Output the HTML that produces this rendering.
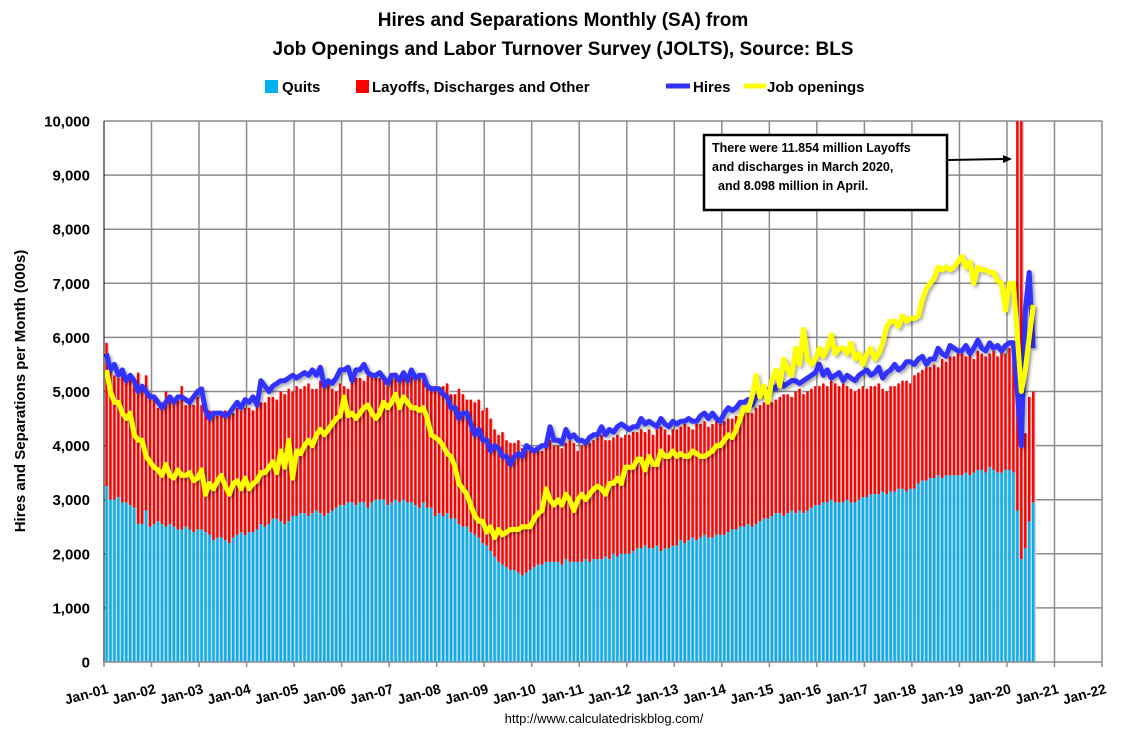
<!DOCTYPE html>
<html><head><meta charset="utf-8"><style>
body{margin:0;background:#fff;width:1126px;height:737px;overflow:hidden;font-family:"Liberation Sans",sans-serif}
text{font-family:"Liberation Sans",sans-serif}
</style></head><body>
<svg id="c" width="1126" height="737" xmlns="http://www.w3.org/2000/svg">
<defs>
<filter id="sh" x="-5%" y="-5%" width="110%" height="110%"><feDropShadow dx="2" dy="2" stdDeviation="1.5" flood-color="#000" flood-opacity="0.35"/></filter>
<clipPath id="pc"><rect x="104" y="121" width="998" height="541"/></clipPath>
</defs>
<text x="563" y="26" text-anchor="middle" font-size="19" font-weight="bold">Hires and Separations Monthly (SA) from</text>
<text x="563" y="55" text-anchor="middle" font-size="19" font-weight="bold">Job Openings and Labor Turnover Survey (JOLTS), Source: BLS</text>
<g font-size="15" font-weight="bold">
<rect x="265" y="80" width="13" height="13" fill="#00b0f0"/>
<text x="282" y="92">Quits</text>
<rect x="356" y="80" width="13" height="13" fill="#ff0000"/>
<text x="372" y="92">Layoffs, Discharges and Other</text>
<line x1="666" y1="86" x2="690" y2="86" stroke="#3333ff" stroke-width="5"/>
<text x="693" y="92">Hires</text>
<line x1="744" y1="86" x2="766" y2="86" stroke="#ffff00" stroke-width="5"/>
<text x="767" y="92">Job openings</text>
</g>
<g id="grid"></g>
<g id="bars" clip-path="url(#pc)"></g>
<g id="lines" clip-path="url(#pc)"></g>
<g id="axes"></g>
<text transform="translate(25,391) rotate(-90)" text-anchor="middle" font-size="15" font-weight="bold">Hires and Separations per Month (000s)</text>
<g>
<rect x="704" y="135" width="243" height="75" fill="#fff" stroke="#000" stroke-width="2.5"/>
<text font-size="12.5" font-weight="bold"><tspan x="712" y="152">There were 11.854 million Layoffs</tspan><tspan x="712" y="171">and discharges in March 2020,</tspan><tspan x="718" y="190">and 8.098 million in April.</tspan></text>
<line x1="948" y1="160" x2="1004" y2="159" stroke="#000" stroke-width="2"/>
<polygon points="1012,159 1003,155 1003,163" fill="#000"/>
</g>
<text x="604" y="723" text-anchor="middle" font-size="13">http://www.calculatedriskblog.com/</text>
</svg>
<script>
const yTicks=[0,1000,2000,3000,4000,5000,6000,7000,8000,9000,10000];
const yTickLabels=["0","1,000","2,000","3,000","4,000","5,000","6,000","7,000","8,000","9,000","10,000"];
const xTickLabels=["Jan-01","Jan-02","Jan-03","Jan-04","Jan-05","Jan-06","Jan-07","Jan-08","Jan-09","Jan-10","Jan-11","Jan-12","Jan-13","Jan-14","Jan-15","Jan-16","Jan-17","Jan-18","Jan-19","Jan-20","Jan-21","Jan-22"];
// monthly, Jan 2001 - Jul 2020
const quits=[
3250,3000,3000,3050,2950,2950,2900,2850,2550,2550,2800,2500,
2550,2600,2550,2500,2550,2500,2450,2450,2500,2450,2400,2450,
2450,2400,2350,2250,2300,2300,2250,2200,2300,2350,2400,2350,
2400,2400,2450,2550,2500,2550,2650,2650,2600,2550,2600,2700,
2700,2750,2750,2700,2750,2800,2750,2700,2750,2800,2850,2900,
2900,2950,2950,2900,2950,2950,2850,2950,3000,3000,3000,2900,
2950,3000,2950,3000,2950,2950,2900,2850,2950,2850,2850,2700,
2750,2700,2750,2650,2650,2550,2500,2500,2400,2350,2300,2200,
2150,2050,1950,1850,1800,1750,1700,1700,1650,1600,1650,1700,
1750,1800,1800,1850,1850,1850,1850,1800,1900,1850,1850,1850,
1850,1900,1850,1900,1900,1900,1950,1900,2000,1950,2000,2000,
2000,2050,2100,2100,2150,2100,2100,2150,2050,2100,2100,2150,
2150,2250,2200,2250,2300,2250,2300,2350,2300,2300,2350,2350,
2350,2400,2450,2450,2500,2500,2550,2500,2550,2600,2650,2650,
2700,2750,2750,2700,2750,2800,2750,2800,2750,2800,2850,2900,
2900,2950,2950,3000,2950,2950,2950,3000,2950,2950,3000,3050,
3050,3100,3100,3100,3150,3100,3150,3150,3200,3200,3150,3200,
3200,3300,3350,3350,3400,3400,3450,3400,3450,3450,3450,3450,
3450,3500,3450,3500,3550,3550,3500,3600,3550,3500,3500,3550,
3550,3500,2800,1900,2100,2600,2950];
const totalSeparations=[
5900,5400,5300,5250,5400,5200,5300,5200,5350,5100,5300,4950,
4850,4700,4800,5000,4850,4800,4850,5100,4750,4800,4750,4900,
4750,4700,4650,4600,4550,4600,4650,4600,4600,4700,4650,4700,
4700,4650,4750,4800,4800,4900,4900,4850,5000,4950,5050,5000,
5100,5050,5100,5150,5050,5050,5200,5100,5150,5050,5000,5150,
5100,5050,5200,5250,5250,5200,5300,5350,5300,5250,5200,5100,
5300,5350,5250,5300,5250,5400,5300,5250,5200,5050,5100,5100,
5050,5100,5150,4950,4950,5050,4950,4850,4850,4800,4850,4650,
4700,4500,4300,4200,4250,4100,4050,4050,4100,3950,4000,3900,
3950,3900,3900,4000,4100,4000,4000,3950,4050,4100,4050,3900,
4000,4100,4050,4100,4150,4200,4100,4100,4150,4200,4150,4200,
4200,4250,4250,4300,4250,4300,4200,4300,4350,4300,4200,4300,
4300,4350,4400,4350,4300,4400,4400,4450,4350,4400,4450,4400,
4450,4500,4500,4550,4600,4650,4700,4600,4700,4750,4800,4800,
4800,4850,4900,4950,4950,4900,5000,5050,4950,5000,5050,5100,
5100,5150,5100,5200,5150,5100,5150,5100,5050,5000,5050,5100,
5050,5100,5100,5150,5050,5000,5100,5100,5150,5200,5200,5150,
5300,5350,5400,5450,5450,5500,5450,5600,5550,5650,5650,5700,
5700,5650,5700,5600,5750,5700,5650,5700,5750,5650,5750,5700,
5800,5700,14654,9998,4230,4900,5000];
const hires=[
5700,5400,5500,5300,5400,5200,5300,5200,5000,5100,5000,4900,
4900,4800,4700,4800,4900,4800,4900,4900,4850,4800,4900,5000,
5050,4650,4500,4600,4600,4600,4550,4600,4700,4800,4700,4850,
4800,4900,4750,5200,5100,5000,5100,5150,5200,5200,5250,5300,
5250,5300,5350,5300,5400,5300,5450,5100,5200,5150,5250,5400,
5400,5450,5200,5400,5400,5500,5350,5300,5300,5350,5250,5150,
5300,5300,5200,5350,5200,5400,5250,5300,5300,5100,5050,5050,
5050,4950,4900,4700,4700,4500,4600,4600,4400,4200,4300,4100,
4100,3900,4000,3950,3800,3800,3650,3800,3850,3800,4000,3950,
3900,3950,4000,4000,4350,4100,4100,4050,4300,4150,4200,4100,
4100,4050,4150,4200,4200,4350,4200,4300,4250,4350,4400,4350,
4300,4350,4350,4500,4400,4450,4400,4350,4500,4400,4350,4450,
4400,4450,4450,4500,4450,4450,4550,4600,4500,4600,4500,4450,
4600,4700,4650,4700,4800,4800,4850,4750,4900,4950,4950,5000,
5100,5050,5200,5100,5150,5200,5200,5150,5200,5250,5300,5350,
5500,5300,5400,5250,5300,5350,5200,5300,5250,5200,5300,5350,
5400,5300,5350,5450,5250,5350,5400,5500,5400,5450,5550,5550,
5500,5600,5650,5500,5600,5600,5800,5700,5650,5850,5800,5750,
5750,5850,5700,5800,5950,5800,5750,5900,5800,5850,5750,5850,
5900,5900,5000,4000,6500,7200,5800];
const openings=[
5400,5000,4800,4800,4600,4500,4600,4200,4100,4100,3800,3700,
3600,3550,3450,3650,3450,3400,3550,3450,3450,3500,3350,3400,
3550,3100,3300,3200,3350,3450,3250,3100,3300,3350,3200,3400,
3200,3300,3350,3500,3500,3600,3700,3500,3900,3600,4100,3400,
3900,3850,4000,4100,4000,4200,4300,4200,4300,4400,4500,4550,
4900,4550,4600,4500,4600,4700,4750,4600,4500,4600,4800,4700,
4800,4950,4700,4900,4800,4700,4700,4650,4700,4500,4200,4150,
4100,4000,3850,3800,3600,3300,3200,3100,2900,2700,2600,2600,
2400,2500,2300,2450,2350,2400,2450,2450,2450,2500,2500,2500,
2650,2750,2800,3200,3000,2900,3000,2900,3100,3000,2800,3000,
3100,3000,3100,3200,3250,3200,3100,3300,3300,3400,3300,3600,
3600,3600,3750,3750,3550,3800,3650,3650,3900,3800,3800,3900,
3800,3850,3800,3800,3900,3850,3800,3800,3850,3900,4000,4000,
4100,4200,4150,4300,4500,4700,4650,4900,5300,4900,5100,4800,
5200,5400,5100,5600,5400,5300,5800,5500,6150,5600,5500,5600,
5800,5650,5800,6050,5700,5800,5800,5700,5900,5600,5700,5500,
5700,5800,5600,5700,5900,6200,6300,6300,6200,6400,6300,6350,
6350,6400,6700,6900,7000,7100,7300,7250,7300,7250,7300,7400,
7500,7300,7400,7000,7300,7250,7250,7200,7200,7050,7000,6500,
7000,7000,6000,5000,5400,6000,6600];

const NS='http://www.w3.org/2000/svg';
const X0=104,X1=1102,Y0=662,Y1=121;
const yScale=v=>Y0-(v/10000)*(Y0-Y1);
const yearScale=y=>X0+y*(X1-X0)/21;
const monthX=i=>X0+(i+0.5)*(X1-X0)/252+0.5;
function mk(tag,attrs,parent){const e=document.createElementNS(NS,tag);for(const k in attrs)e.setAttribute(k,attrs[k]);parent.appendChild(e);return e;}
const grid=document.getElementById('grid'),axes=document.getElementById('axes'),bars=document.getElementById('bars'),lines=document.getElementById('lines');
yTicks.forEach((t,i)=>{
  const y=yScale(t);
  if(t>0){const l=mk('line',{x1:X0,x2:X1,y1:y,y2:y,stroke:'#8c8c8c','stroke-width':1.5},grid);
  
  }
  const tx=mk('text',{x:90,y:y+5.5,'text-anchor':'end','font-size':15,'font-weight':'bold'},axes);
  tx.textContent=yTickLabels[i];
  
  
});
xTickLabels.forEach((lab,i)=>{
  const x=yearScale(i);
  if(i>0){const l=mk('line',{x1:x,x2:x,y1:Y1,y2:Y0,stroke:'#8c8c8c','stroke-width':1.5},grid);
  
  }
  const tk=mk('line',{x1:x,x2:x,y1:Y0,y2:Y0+5,stroke:'#8c8c8c','stroke-width':1.5},axes);
  
  
  const tx=mk('text',{transform:`translate(${x+5},${Y0+31}) rotate(-15)`,'text-anchor':'end','font-size':14,'font-weight':'bold'},axes);
  tx.textContent=lab;
  
  
});
const bw=(X1-X0)/252*0.62;
quits.forEach((q,i)=>{
  const x=monthX(i)-bw/2, tot=Math.min(totalSeparations[i],10500);
  const s=mk('rect',{x:x+bw*0.7,y:yScale(tot)+1,width:bw*0.9,height:Y0-yScale(tot),fill:'#d0d0d0'},bars);
  
  
  const r=mk('rect',{x:x,y:yScale(tot),width:bw,height:yScale(q)-yScale(tot),fill:'#ff0000'},bars);
  
  
  const b=mk('rect',{x:x,y:yScale(q),width:bw,height:Y0-yScale(q),fill:'#00b0f0'},bars);
  
  
});
function line(arr,color,name){
  const d=arr.map((v,i)=>(i?'L':'M')+monthX(i).toFixed(1)+','+yScale(v).toFixed(1)).join('');
  const p=mk('path',{d:d,fill:'none',stroke:color,'stroke-width':5,'stroke-linejoin':'round',filter:'url(#sh)'},lines);
  
  
}
line(hires,'#3333ff','hires-line');
line(openings,'#ffff00','job-openings-line');
const ax=mk('line',{x1:X0,x2:X0,y1:Y1,y2:Y0,stroke:'#000','stroke-width':1},axes);


const bx=mk('line',{x1:X0,x2:X1,y1:Y0,y2:Y0,stroke:'#8c8c8c','stroke-width':1.5},axes);


</script>
</body></html>
